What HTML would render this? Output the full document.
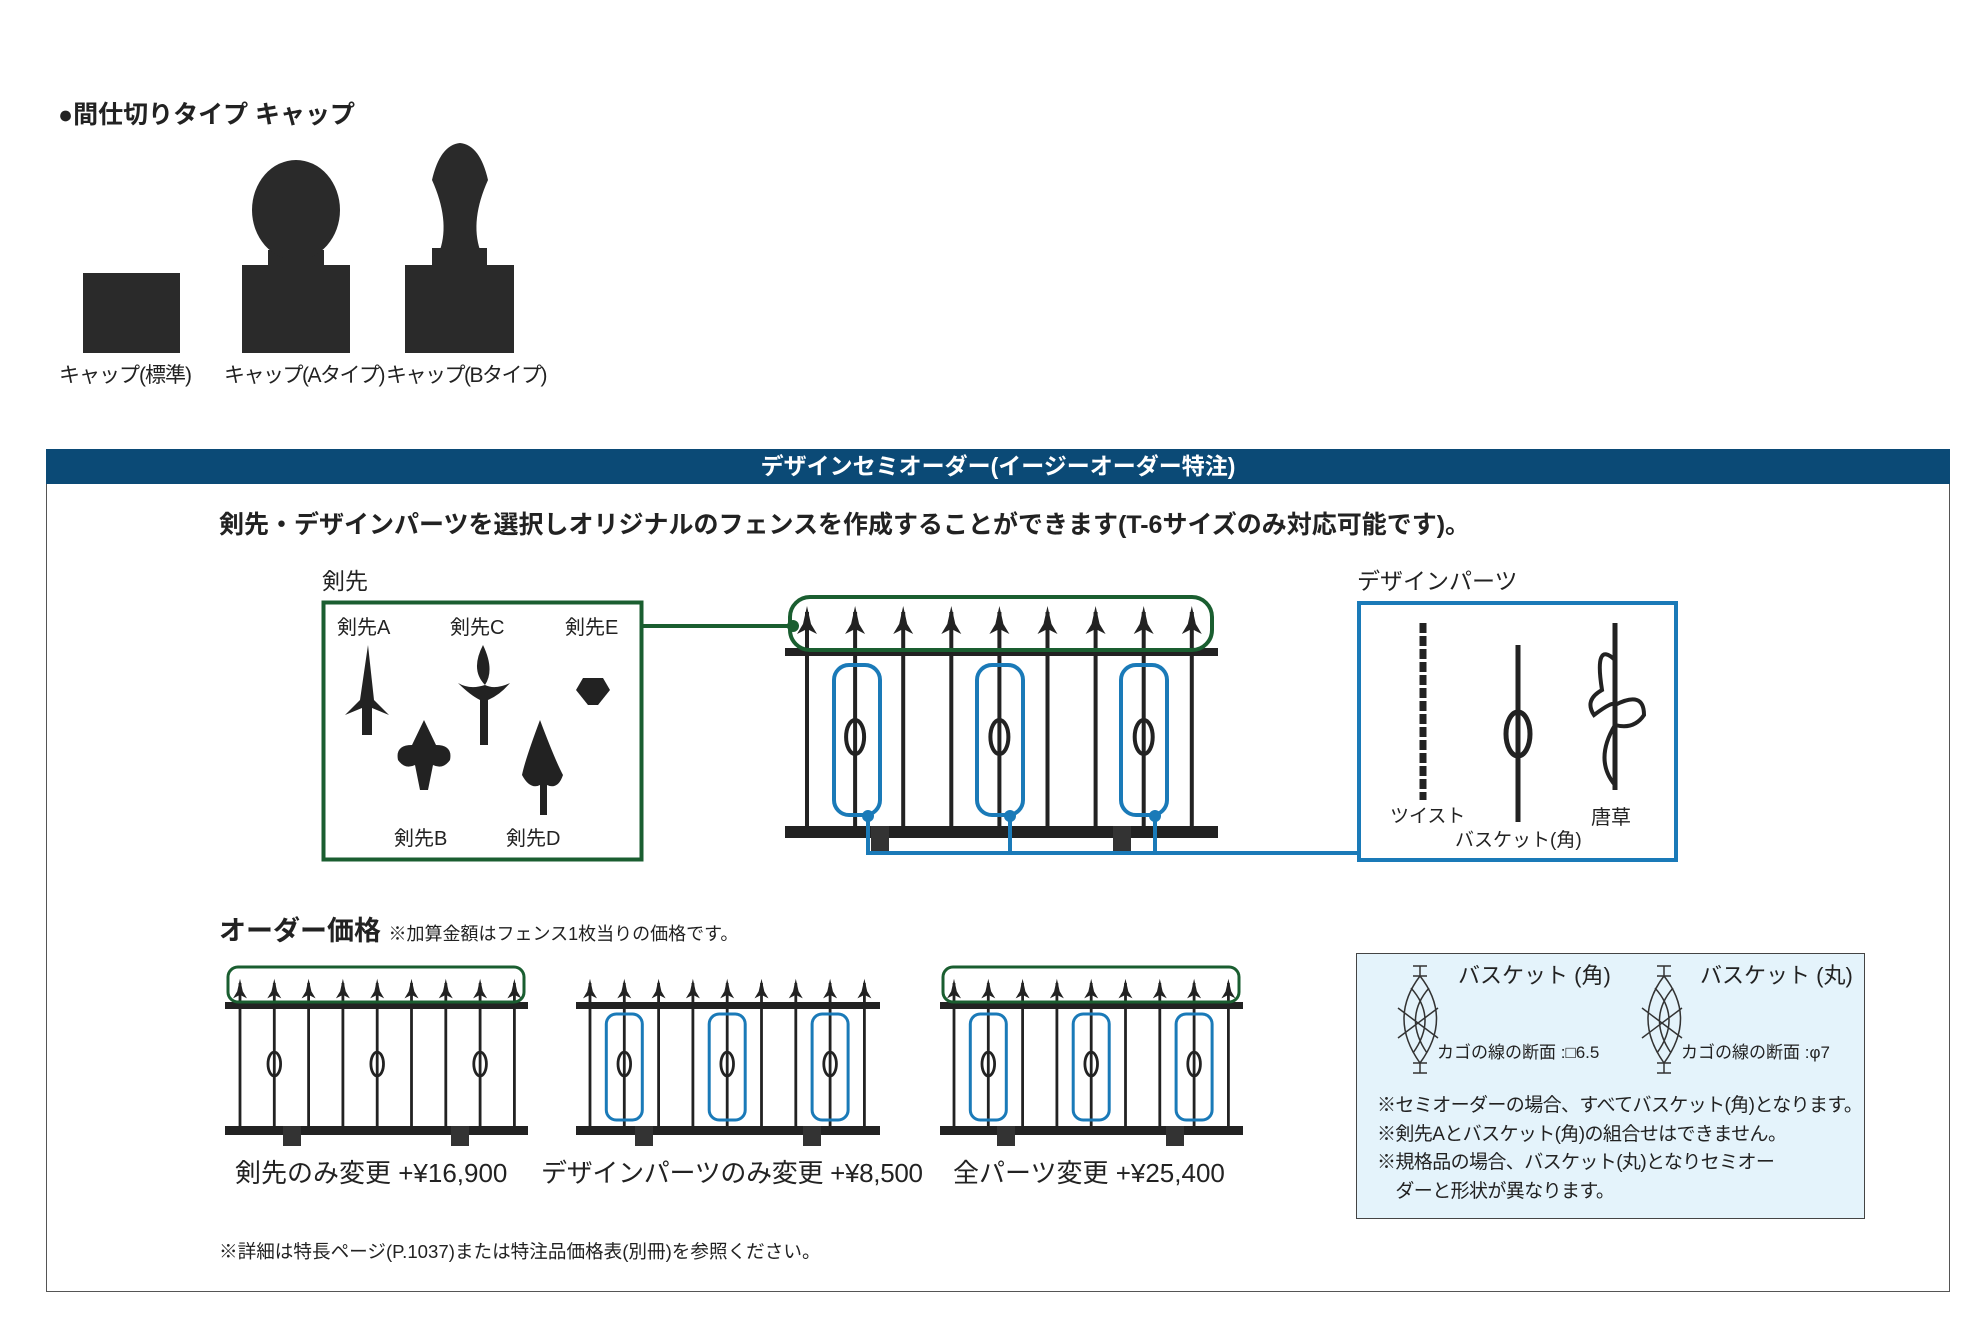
<!DOCTYPE html>
<html><head><meta charset="utf-8"><style>
html,body{margin:0;padding:0;background:#fff;}
body{width:1988px;height:1332px;overflow:hidden;position:relative;font-family:"Liberation Sans","Noto Sans CJK JP",sans-serif;color:#222;}
.t{position:absolute;white-space:nowrap;}
</style></head><body>
<div class="t" style="left:58px;top:95px;font-size:25px;font-weight:bold;">●間仕切りタイプ キャップ</div>
<div class="t" style="left:59px;top:359px;font-size:21px;letter-spacing:-1px;">キャップ(標準)</div>
<div class="t" style="left:224px;top:359px;font-size:21px;letter-spacing:-1.5px;">キャップ(Aタイプ)</div>
<div class="t" style="left:386px;top:359px;font-size:21px;letter-spacing:-1.5px;">キャップ(Bタイプ)</div>
<div style="position:absolute;left:46px;top:449px;width:1904px;height:843px;border:1.5px solid #555;box-sizing:border-box;"></div>
<div style="position:absolute;left:46px;top:449px;width:1904px;height:35px;background:#0b4a76;color:#fff;font-weight:bold;font-size:23px;text-align:center;line-height:35px;">デザインセミオーダー(イージーオーダー特注)</div>
<div class="t" style="left:219px;top:505px;font-size:25px;font-weight:bold;">剣先・デザインパーツを選択しオリジナルのフェンスを作成することができます(T-6サイズのみ対応可能です)。</div>
<div class="t" style="left:322px;top:562px;font-size:23px;">剣先</div>
<div class="t" style="left:1357px;top:562px;font-size:23px;">デザインパーツ</div>
<div class="t" style="left:337px;top:611px;font-size:20px;">剣先A</div>
<div class="t" style="left:450px;top:611px;font-size:20px;">剣先C</div>
<div class="t" style="left:565px;top:611px;font-size:20px;">剣先E</div>
<div class="t" style="left:394px;top:822px;font-size:20px;">剣先B</div>
<div class="t" style="left:506px;top:822px;font-size:20px;">剣先D</div>
<div class="t" style="left:1390px;top:801px;font-size:19px;">ツイスト</div>
<div class="t" style="left:1455px;top:825px;font-size:19px;">バスケット(角)</div>
<div class="t" style="left:1591px;top:801px;font-size:20px;">唐草</div>
<div class="t" style="left:219px;top:909px;font-size:27px;font-weight:bold;">オーダー価格 <span style="font-size:18px;font-weight:normal;">※加算金額はフェンス1枚当りの価格です。</span></div>
<div class="t" style="left:235px;top:1153px;font-size:26px;">剣先のみ変更 +¥16,900</div>
<div class="t" style="left:541px;top:1153px;font-size:26px;letter-spacing:-0.3px;">デザインパーツのみ変更 +¥8,500</div>
<div class="t" style="left:953px;top:1153px;font-size:26px;">全パーツ変更 +¥25,400</div>
<div class="t" style="left:219px;top:1237px;font-size:18.6px;">※詳細は特長ページ(P.1037)または特注品価格表(別冊)を参照ください。</div>
<div style="position:absolute;left:1356px;top:953px;width:509px;height:266px;background:#e4f3fb;border:1.5px solid #444;box-sizing:border-box;"></div>
<div class="t" style="left:1458px;top:958px;font-size:22px;">バスケット (角)</div>
<div class="t" style="left:1700px;top:958px;font-size:22px;">バスケット (丸)</div>
<div class="t" style="left:1437px;top:1038px;font-size:17px;">カゴの線の断面 :□6.5</div>
<div class="t" style="left:1681px;top:1038px;font-size:17px;">カゴの線の断面 :φ7</div>
<div class="t" style="left:1377px;top:1092px;font-size:19px;line-height:28.5px;letter-spacing:-0.6px;">※セミオーダーの場合、すべてバスケット(角)となります。<br>※剣先Aとバスケット(角)の組合せはできません。<br>※規格品の場合、バスケット(丸)となりセミオー<br>　ダーと形状が異なります。</div>

<svg id="s" width="1988" height="1332" style="position:absolute;left:0;top:0;" xmlns="http://www.w3.org/2000/svg">
<g fill="#2a2a2a">
<rect x="83" y="273" width="97" height="80"/>
<rect x="242" y="265" width="108" height="88"/>
<rect x="268" y="250" width="56" height="20"/>
<ellipse cx="296" cy="210" rx="44" ry="50"/>
<rect x="405" y="265" width="109" height="88"/>
<rect x="432" y="248" width="55" height="20"/>
<path d="M440 250 Q450 220 432 180 Q440 145 460 143 Q480 145 488 180 Q470 220 480 250Z"/>
</g>
<g fill="#222">
<path d="M368 645 L360 700 L345 715 L362 708 L362 735 L372 735 L372 708 L389 715 L374 700Z"/>
<path d="M483 645 Q470 670 485 685 Q470 690 458 683 Q470 695 480 700 L480 745 L488 745 L488 700 Q500 695 510 683 Q495 690 485 685 Q495 670 483 645Z"/>
<path d="M424 720 L412 745 Q395 745 398 760 Q405 770 415 765 L420 790 L428 790 L433 765 Q443 770 450 760 Q453 745 436 745Z"/>
<path d="M540 720 Q525 760 522 775 Q530 790 540 785 L540 815 L547 815 L547 785 Q558 790 563 775 Q555 760 540 720Z"/>
<path d="M583 678 L603 678 L610 690 L598 705 L588 705 L576 690Z"/>
</g>
<rect x="323.5" y="602.5" width="318" height="257" fill="none" stroke="#1a5e30" stroke-width="4"/>
<line x1="643" y1="626" x2="793" y2="626" stroke="#1a5e30" stroke-width="4"/>
<circle cx="793" cy="626" r="6" fill="#1a5e30"/>
<rect x="1359" y="603" width="317" height="257" fill="none" stroke="#1a7ab8" stroke-width="4"/>
<g stroke="#222" fill="none">
<line x1="1423" y1="623" x2="1423" y2="800" stroke-width="7" stroke-dasharray="10 3"/>
<line x1="1518" y1="645" x2="1518" y2="822" stroke-width="5"/>
<ellipse cx="1518" cy="734" rx="12" ry="22" stroke-width="5"/>
<line x1="1615" y1="623" x2="1615" y2="790" stroke-width="5"/>
<path d="M1615 660 Q1594 640 1602 690 Q1584 700 1594 715 Q1614 700 1615 705 Q1644 690 1644 715 Q1634 730 1615 725 Q1594 760 1615 785" stroke-width="4"/>
</g>
<g id="fences"></g>
<rect x="790" y="597" width="422" height="53" rx="20" fill="none" stroke="#1a5e30" stroke-width="4"/>
<g fill="none" stroke="#1a7ab8" stroke-width="4">
<rect x="834" y="665" width="46" height="150" rx="15"/>
<rect x="977" y="665" width="46" height="150" rx="15"/>
<rect x="1121" y="665" width="46" height="150" rx="15"/>
<polyline points="868,816 868,853 1359,853"/>
<line x1="1010" y1="816" x2="1010" y2="853"/>
<line x1="1155" y1="816" x2="1155" y2="853"/>
</g>
<g fill="#1a7ab8"><circle cx="868" cy="816" r="6"/><circle cx="1010" cy="816" r="6"/><circle cx="1155" cy="816" r="6"/></g>
<g stroke="#333" fill="none" stroke-width="1.5">
<path d="M1413 966h14M1420 966v10M1413 976h14M1413 1063h14M1420 1063v10M1413 1073h14"/>
<path d="M1420 976 Q1388 1018 1420 1063 Q1453 1018 1420 976 M1411 988 Q1438 1018 1413 1053 M1429 988 Q1403 1018 1427 1053 M1398 1008 L1438 1038 M1398 1038 L1438 1008"/>
<path d="M1657 966h14M1664 966v10M1657 976h14M1657 1063h14M1664 1063v10M1657 1073h14"/>
<path d="M1664 976 Q1632 1018 1664 1063 Q1697 1018 1664 976 M1655 988 Q1682 1018 1657 1053 M1673 988 Q1647 1018 1671 1053 M1642 1008 L1682 1038 M1642 1038 L1682 1008"/>
</g>
</svg>
<script>
var g=document.getElementById("fences"),h="";
function fence(x0,x1,p0,sp,n,yTip,yRail,yBot,feet,bask){
  h+='<rect x="'+x0+'" y="'+yRail+'" width="'+(x1-x0)+'" height="'+(sp>40?8:7)+'" fill="#222"/>';
  h+='<rect x="'+x0+'" y="'+yBot+'" width="'+(x1-x0)+'" height="'+(sp>40?12:9)+'" fill="#222"/>';
  var s=sp>40?1:0.7;
  for(var i=0;i<n;i++){var x=p0+i*sp;
    h+='<rect x="'+(x-2*s)+'" y="'+yTip+'" width="'+(4*s)+'" height="'+(yBot-yTip)+'" fill="#222"/>';
    h+='<path d="M'+x+' '+(yTip-6*s)+' L'+(x-4*s)+' '+(yTip+12*s)+' L'+(x-10*s)+' '+(yTip+22*s)+' L'+x+' '+(yTip+17*s)+' L'+(x+10*s)+' '+(yTip+22*s)+' L'+(x+4*s)+' '+(yTip+12*s)+'Z" fill="#222"/>';
    if(bask.indexOf(i)>=0){var cy=(yRail+yBot)/2;h+='<ellipse cx="'+x+'" cy="'+cy+'" rx="'+(9*s)+'" ry="'+(17*s)+'" fill="none" stroke="#222" stroke-width="'+(4*s)+'"/>';}
  }
  feet.forEach(function(f){h+='<rect x="'+(f-9)+'" y="'+yBot+'" width="18" height="'+(sp>40?28:20)+'" fill="#333"/>';});
}
fence(785,1218,807,48.1,9,612,648,826,[880,1122],[1,4,7]);
fence(225,528,240,34.3,9,983,1002,1126,[292,460],[1,4,7]);
fence(576,880,590,34.3,9,983,1002,1126,[644,812],[1,4,7]);
fence(940,1243,954,34.3,9,983,1002,1126,[1006,1175],[1,4,7]);
h+='<rect x="228" y="967" width="296" height="35" rx="10" fill="none" stroke="#1a5e30" stroke-width="3"/>';
h+='<rect x="943" y="967" width="296" height="35" rx="10" fill="none" stroke="#1a5e30" stroke-width="3"/>';
[590+34.3,590+34.3*4,590+34.3*7,954+34.3,954+34.3*4,954+34.3*7].forEach(function(x){
 h+='<rect x="'+(x-18)+'" y="1014" width="36" height="106" rx="10" fill="none" stroke="#1a7ab8" stroke-width="3"/>';});
g.innerHTML=h;
</script>
</body></html>
